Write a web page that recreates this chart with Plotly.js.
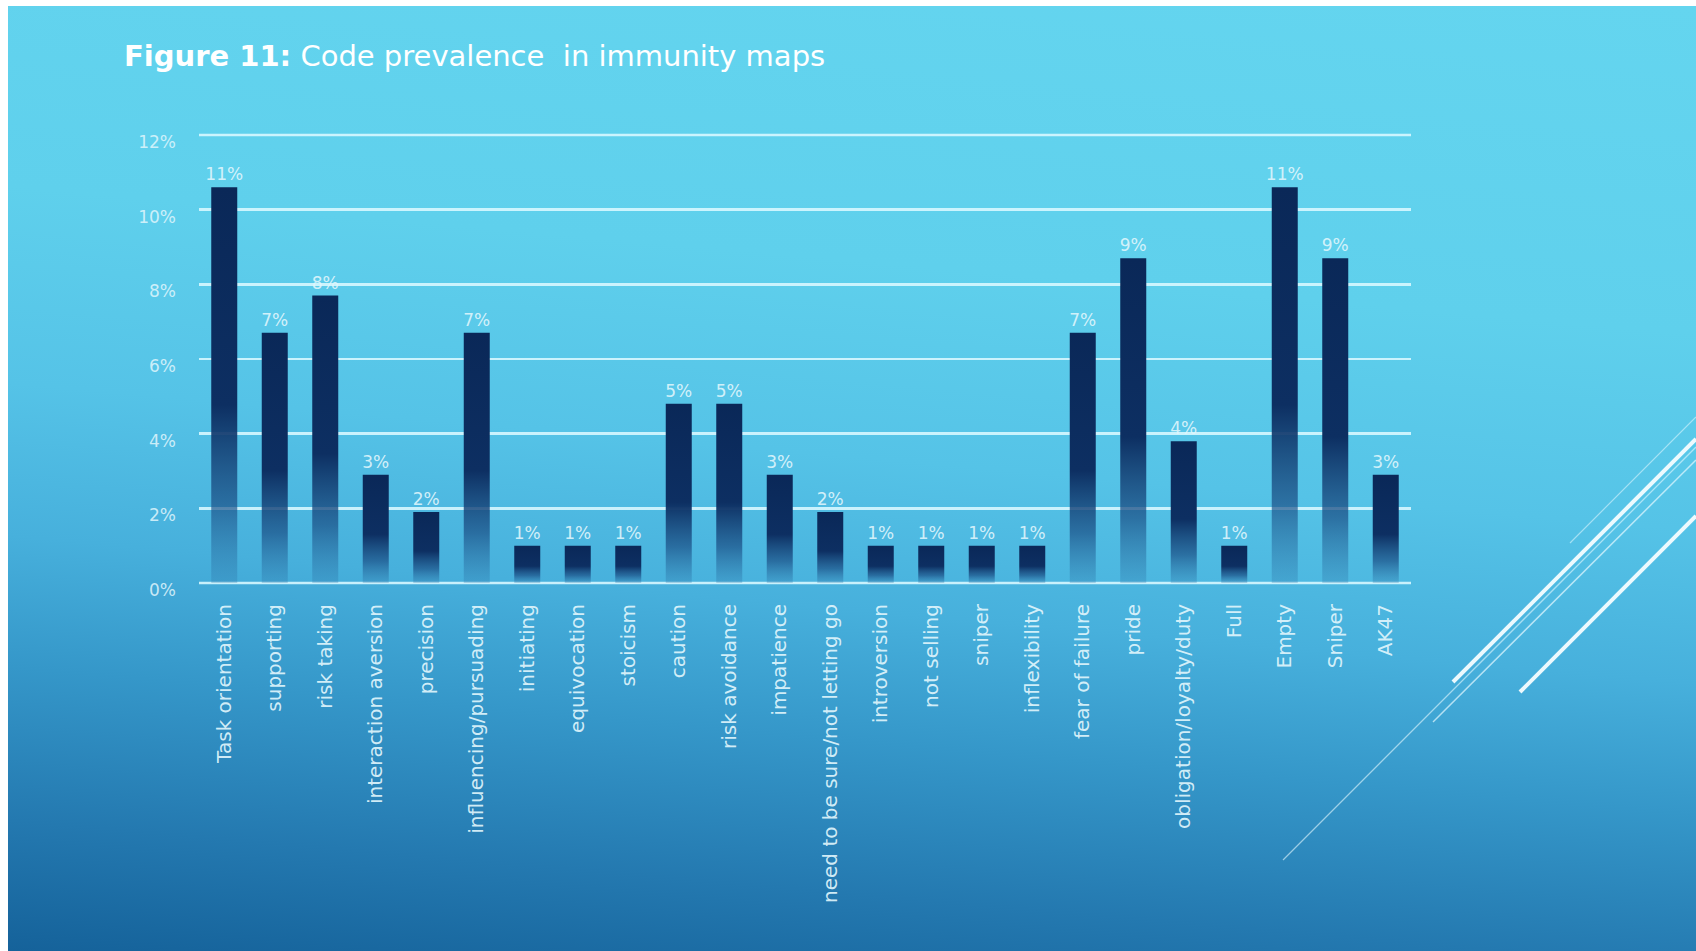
<!DOCTYPE html>
<html>
<head>
<meta charset="utf-8">
<script src="https://cdn.plot.ly/plotly-3.0.1.min.js"></script>
<style>
  html, body { margin: 0; padding: 0; background: #ffffff; width: 1696px; height: 951px; overflow: hidden; }
  #bg { position: absolute; left: 8px; top: 6px; right: 0; bottom: 0;
        background: linear-gradient(185deg, #64d5ef 0%, #5fd0ec 30%, #55c3e7 48%, #47b0dc 62%, #3597c9 74%, #2479b0 88%, #15629a 100%); }
  #chart { position: absolute; left: 0; top: 0; width: 1696px; height: 951px; }
</style>
</head>
<body>
<svg width="0" height="0" style="position:absolute">
  <defs>
    <linearGradient id="barGrad" x1="0" y1="0" x2="0" y2="1">
      <stop offset="0" stop-color="#0a2858" stop-opacity="1"/>
      <stop offset="0.55" stop-color="#0d2f62" stop-opacity="1"/>
      <stop offset="0.8" stop-color="#1b4f86" stop-opacity="0.7"/>
      <stop offset="1" stop-color="#2b6fa3" stop-opacity="0.25"/>
    </linearGradient>
  </defs>
</svg>
<div id="bg"></div>
<div id="chart"></div>
<script>
const categories = [
  "Task orientation", "supporting", "risk taking", "interaction aversion", "precision",
  "influencing/pursuading", "initiating", "equivocation", "stoicism", "caution",
  "risk avoidance", "impatience", "need to be sure/not letting go", "introversion",
  "not selling", "sniper", "inflexibility", "fear of failure", "pride",
  "obligation/loyalty/duty", "Full", "Empty", "Sniper", "AK47"
];
const shares = [10.6, 6.7, 7.7, 2.9, 1.9, 6.7, 1.0, 1.0, 1.0, 4.8, 4.8, 2.9, 1.9, 1.0,
                1.0, 1.0, 1.0, 6.7, 8.7, 3.8, 1.0, 10.6, 8.7, 2.9];
const yTickValues = [0, 2, 4, 6, 8, 10, 12];
const yTickLabels = ["0%", "2%", "4%", "6%", "8%", "10%", "12%"];
const titleText = "<b>Figure 11:</b> Code prevalence  in immunity maps";

const W = 1696, H = 951;
const L = 199, R = 1411, T = 135, B = 583;
const gridColor = 'rgba(215,247,255,0.9)';
function px(x) { return (x - L) / (R - L); }
function py(y) { return (B - y) / (B - T); }
function deco(x0, y0, x1, y1, w, c) {
  return { type: 'line', xref: 'paper', yref: 'paper', x0: px(x0), y0: py(y0), x1: px(x1), y1: py(y1),
           line: { color: c, width: w }, layer: 'above' };
}

const trace = {
  type: 'bar',
  x: categories,
  y: shares,
  marker: { color: '#0b2a5c', line: { width: 0 } },
  texttemplate: '%{y:.0f}%',
  textposition: 'outside',
  constraintext: 'none',
  cliponaxis: false,
  textfont: { family: 'DejaVu Sans', size: 17, color: 'rgba(225,246,252,0.9)' },
  hoverinfo: 'skip'
};

const layout = {
  width: W, height: H,
  margin: { l: L, r: W - R, t: T, b: H - B, pad: 0 },
  paper_bgcolor: 'rgba(0,0,0,0)',
  plot_bgcolor: 'rgba(0,0,0,0)',
  showlegend: false,
  bargap: 0.485,
  title: {
    text: titleText,
    font: { family: 'DejaVu Sans', size: 29, color: '#ffffff' },
    xref: 'container', yref: 'container', x: 124 / W, xanchor: 'left',
    y: 1 - 56 / H, yanchor: 'middle'
  },
  xaxis: {
    type: 'category',
    tickangle: -90,
    showgrid: false, zeroline: false, showline: false,
    ticks: '', ticklabelstandoff: 16,
    tickfont: { family: 'DejaVu Sans', size: 20, color: 'rgba(225,246,252,0.92)' },
    fixedrange: true
  },
  yaxis: {
    range: [0, 12],
    tickvals: yTickValues, ticktext: yTickLabels,
    showgrid: true, gridcolor: gridColor, gridwidth: 2.5,
    zeroline: false, showline: false,
    ticks: '', ticklabelstandoff: 22, ticklabelshift: 7,
    tickfont: { family: 'DejaVu Sans', size: 17, color: 'rgba(225,246,252,0.85)' },
    fixedrange: true
  },
  shapes: [
    { type: 'line', xref: 'paper', yref: 'paper', x0: 0, x1: 1, y0: 0, y1: 0,
      line: { color: gridColor, width: 2.5 }, layer: 'below' },
    { type: 'line', xref: 'paper', yref: 'paper', x0: 0, x1: 1, y0: 1, y1: 1,
      line: { color: gridColor, width: 2.5 }, layer: 'below' },
    deco(1283, 860, 1696, 447, 1.3, 'rgba(230,250,255,0.6)'),
    deco(1433, 722, 1696, 460, 1.5, 'rgba(230,250,255,0.7)'),
    deco(1570, 543, 1696, 417, 1.2, 'rgba(230,250,255,0.55)'),
    deco(1453, 682, 1696, 439, 4, 'rgba(245,253,255,0.95)'),
    deco(1520, 692, 1696, 516, 4, 'rgba(245,253,255,0.95)')
  ]
};

Plotly.newPlot('chart', [trace], layout, { displayModeBar: false, staticPlot: true }).then(function () {
  document.querySelectorAll('#chart .barlayer .point path').forEach(function (p) {
    p.style.fill = 'url(#barGrad)';
    p.style.fillOpacity = '1';
  });
});
</script>
</body>
</html>
